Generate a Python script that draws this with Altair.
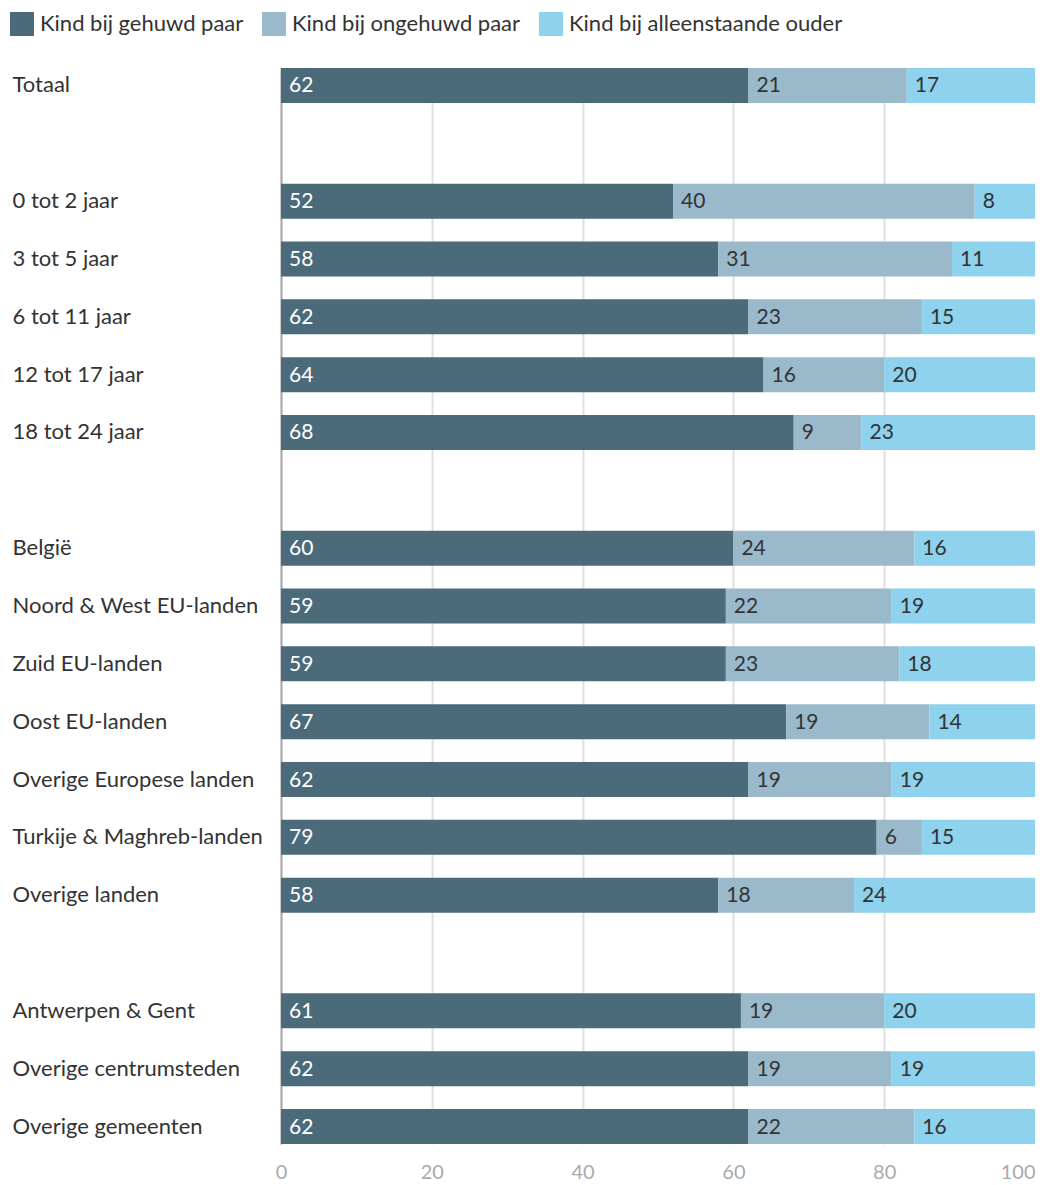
import altair as alt
import pandas as pd

categories = ["Totaal", " ", "0 tot 2 jaar", "3 tot 5 jaar", "6 tot 11 jaar", "12 tot 17 jaar",
              "18 tot 24 jaar", "  ", "België", "Noord & West EU-landen", "Zuid EU-landen",
              "Oost EU-landen", "Overige Europese landen", "Turkije & Maghreb-landen",
              "Overige landen", "   ", "Antwerpen & Gent", "Overige centrumsteden",
              "Overige gemeenten"]
series = ["Kind bij gehuwd paar", "Kind bij ongehuwd paar", "Kind bij alleenstaande ouder"]
gehuwd =     [62, None, 52, 58, 62, 64, 68, None, 60, 59, 59, 67, 62, 79, 58, None, 61, 62, 62]
ongehuwd =   [21, None, 40, 31, 23, 16, 9, None, 24, 22, 23, 19, 19, 6, 18, None, 19, 19, 22]
alleen =     [17, None, 8, 11, 15, 20, 23, None, 16, 19, 18, 14, 19, 15, 24, None, 20, 19, 16]
colors = ["#4b6b7b", "#9abacb", "#8ed2ed"]
x_ticks = [0, 20, 40, 60, 80, 100]

rows = []
for vals, s_i in zip([gehuwd, ongehuwd, alleen], range(3)):
    for c, v in zip(categories, vals):
        if v is not None:
            rows.append({"cat": c, "serie": series[s_i], "idx": s_i, "v": v})
df = pd.DataFrame(rows)

base = alt.Chart(df).transform_stack(
    stack="v", groupby=["cat"], as_=["x0", "x1"],
    sort=[alt.SortField("idx", order="ascending")]
)

yenc = alt.Y("cat:N", sort=categories,
             scale=alt.Scale(domain=categories, paddingInner=0.395, paddingOuter=0),
             axis=alt.Axis(title=None, labelAlign="left", labelPadding=269, ticks=False,
                           tickSize=0, labelFontSize=22, labelColor="#333333",
                           domain=True, domainColor="#aaaaaa", domainWidth=2,
                           grid=False, labelLimit=300))

bars = base.mark_bar().encode(
    x=alt.X("x0:Q", scale=alt.Scale(domain=[0, 100], nice=False),
            axis=alt.Axis(title=None, values=x_ticks, grid=True, gridColor="#e0e0e0",
                          gridWidth=alt.expr("datum.value == 100 ? 0 : 2"),
                          domain=False, ticks=False, tickSize=0,
                          labelFontSize=20, labelColor="#aaaaaa", labelPadding=18,
                          labelAlign=alt.expr("datum.value == 100 ? 'right' : 'center'"))),
    x2="x1:Q",
    y=yenc,
    color=alt.Color("serie:N", scale=alt.Scale(domain=series, range=colors),
                    legend=alt.Legend(title=None, orient="none", legendX=-271, legendY=-56,
                                      direction="horizontal", symbolType="square",
                                      symbolSize=576, symbolStrokeWidth=0, labelFontSize=22,
                                      labelColor="#333333", labelOffset=6, columnPadding=18,
                                      labelLimit=400)),
)

texts = base.mark_text(align="left", baseline="middle", dx=8, dy=1, fontSize=21).encode(
    x="x0:Q",
    y=alt.Y("cat:N", sort=categories),
    text="v:Q",
    color=alt.condition(alt.datum.idx == 0, alt.value("white"), alt.value("#333333")),
)

chart = alt.layer(bars, texts).properties(
    width=754, height=1076,
    padding={"left": 2, "top": 4, "right": 0, "bottom": 0},
).configure(font="Lato").configure_view(stroke=None)

chart.save("out.html", embed_options={"renderer": "svg", "actions": False})
